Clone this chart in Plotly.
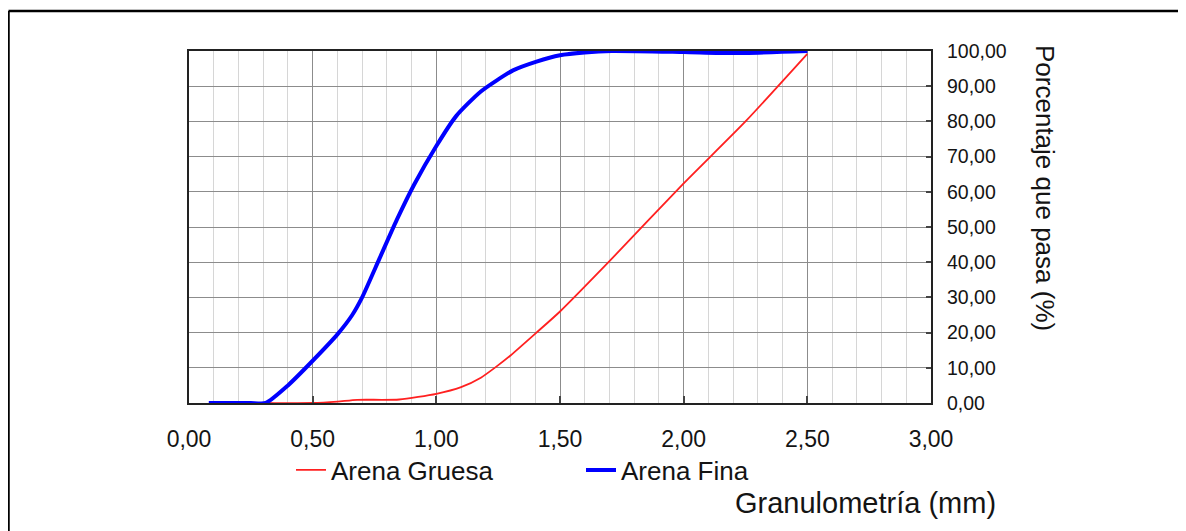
import plotly.graph_objects as go

# Data
gruesa_x = [0.15, 0.30, 0.50, 0.60, 0.68, 0.85, 1.00, 1.10, 1.18, 1.24, 1.30, 1.405, 1.50, 1.70, 2.00, 2.25, 2.50]
gruesa_y = [0.0, 0.0, 0.0, 0.4, 0.9, 1.0, 2.6, 4.5, 7.2, 10.2, 13.5, 20.0, 26.0, 40.3, 62.4, 80.0, 99.2]

fina_x = [0.08, 0.20, 0.25, 0.31, 0.40, 0.50, 0.60, 0.66, 0.70, 0.77, 0.84, 0.91, 1.00, 1.08, 1.18, 1.31, 1.405, 1.50, 1.60, 1.71, 2.00, 2.20, 2.50]
fina_y = [0.0, 0.0, 0.0, 0.0, 5.0, 12.0, 19.5, 25.0, 30.0, 41.0, 52.0, 62.0, 73.0, 81.5, 88.5, 94.5, 97.0, 98.8, 99.6, 100.0, 99.7, 99.4, 100.0]

x_ticks = [0, 0.5, 1.0, 1.5, 2.0, 2.5, 3.0]
y_ticks = [0, 10, 20, 30, 40, 50, 60, 70, 80, 90, 100]

FONT = "Liberation Sans, Arial, sans-serif"
TXT = "#141414"

fig = go.Figure()
fig.add_trace(go.Scatter(x=gruesa_x, y=gruesa_y, mode="lines", name="Arena Gruesa",
                         line=dict(color="#ff2020", width=1.8, shape="spline", smoothing=0.6)))
fig.add_trace(go.Scatter(x=fina_x, y=fina_y, mode="lines", name="Arena Fina",
                         line=dict(color="#0000ff", width=4, shape="spline", smoothing=0.6)))

# page offset (browser body margin)
OFF = 8
# plot area in page px: left 189, right 931, top 51, bottom 403
L, R, T, B = 189, 931, 51, 403
W, H = R - L, B - T
FW, FH = 1186 - OFF, 531 - OFF
def px(x):
    return (x - L) / W
def py(y):
    return (B - y) / H

fig.update_layout(
    width=FW, height=FH,
    margin=dict(l=L - OFF, r=FW - (R - OFF), t=T - OFF, b=FH - (B - OFF)),
    paper_bgcolor="white", plot_bgcolor="white",
    separators=",.",
    font=dict(family=FONT, color=TXT),
    showlegend=True,
    legend=dict(orientation="h", x=px(291), xanchor="left", y=py(470), yanchor="middle",
                font=dict(size=26, family=FONT, color=TXT), entrywidth=245,
                bgcolor="rgba(0,0,0,0)", borderwidth=0, itemwidth=30),
    xaxis=dict(range=[0, 3], tickvals=x_ticks, tickformat=".2f",
               showgrid=True, gridcolor="#8c8c8c", gridwidth=1.3,
               minor=dict(dtick=0.1, tick0=0, showgrid=True, gridcolor="#d6d6d6", gridwidth=1.3),
               showline=True, linecolor="#222", linewidth=2.2, mirror=True,
               ticks="inside", ticklen=7, tickcolor="#444", tickwidth=1.5,
               ticklabelstandoff=14,
               tickfont=dict(size=23, family=FONT, color=TXT), zeroline=False, fixedrange=True),
    yaxis=dict(range=[0, 100], tickvals=y_ticks, tickformat=".2f", side="right",
               showgrid=True, gridcolor="#8c8c8c", gridwidth=1.3,
               showline=True, linecolor="#222", linewidth=2.2, mirror=True,
               ticks="inside", ticklen=5, tickcolor="#444", tickwidth=1.5,
               ticklabelstandoff=10,
               tickfont=dict(size=19.5, family=FONT, color=TXT), zeroline=False, fixedrange=True),
    annotations=[
        dict(text="Granulometría (mm)", xref="paper", yref="paper", x=px(998), y=py(503),
             xanchor="right", yanchor="middle", showarrow=False,
             font=dict(size=29, family=FONT, color=TXT)),
        dict(text="Porcentaje que pasa (%)", xref="paper", yref="paper", x=px(1045), y=py(188),
             xanchor="center", yanchor="middle", showarrow=False, textangle=90,
             font=dict(size=26, family=FONT, color=TXT)),
    ],
    shapes=[
        dict(type="line", xref="paper", yref="paper", x0=px(8.5), x1=px(1200), y0=py(11), y1=py(11),
             line=dict(color="black", width=2.5)),
        dict(type="line", xref="paper", yref="paper", x0=px(8.5), x1=px(8.5), y0=py(11), y1=py(545),
             line=dict(color="black", width=2.5)),
    ],
)

fig.write_html("out.html")
